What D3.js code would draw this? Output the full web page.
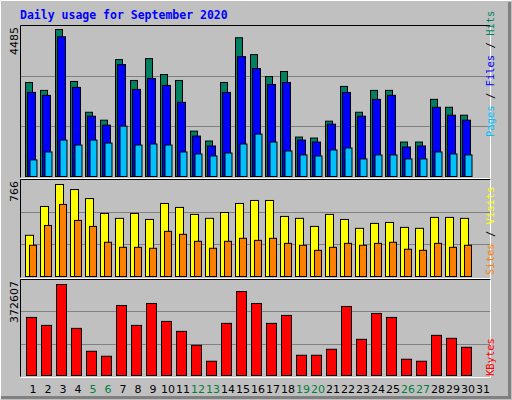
<!DOCTYPE html>
<html><head><meta charset="utf-8">
<script src="https://cdn.jsdelivr.net/npm/d3@7"></script>
<style>body{margin:0;background:#fff}svg{display:block}</style>
</head><body>
<svg id="c" width="512" height="400"></svg>
<script>
const days = d3.range(1, 32);
const weekend = [5, 6, 12, 13, 19, 20, 26, 27];
const hits = [2869,2627,4485,2900,1960,1718,3566,2930,3597,3112,2930,1385,1082,2869,4233,3718,3051,3203,1203,1173,1688,2748,1960,2627,2627,1051,1051,2354,2112,1870,0];
const files = [2566,2476,4263,2718,1839,1567,3415,2657,2991,2779,2263,1233,930,2566,3657,3294,2809,2869,1112,1051,1597,2566,1839,2354,2476,900,930,2112,1870,1718,0];
const pages = [506,748,1112,961,1112,1021,1536,961,991,961,748,688,627,718,991,1294,1051,779,658,627,809,870,536,658,658,536,536,748,688,658,0];
const visits = [343,583,766,724,649,525,484,525,475,608,575,517,484,533,608,633,633,500,484,417,517,475,401,442,450,409,401,492,492,484,0];
const sites = [260,425,600,467,417,285,243,243,235,376,351,293,235,293,318,301,318,276,260,218,243,276,260,276,285,227,218,276,243,260,0];
const kbytes = [237800,205200,372607,193000,99200,78800,286700,205200,294900,221500,180700,123700,58400,213400,343800,294900,213400,246000,82900,82900,107400,282700,148100,254100,237800,66600,58400,164400,152200,115500,0];
const maxHits = 4485, maxVisits = 766, maxKB = 372607;

const svg = d3.select("#c");
// background with bevel
svg.append("rect").attr("width",512).attr("height",400).attr("fill","#c0c0c0");
svg.append("path").attr("d","M0.5,399.5V0.5H511.5").attr("stroke","#fff").attr("fill","none");
svg.append("path").attr("d","M1,397.5H509.5V2").attr("stroke","#808080").attr("stroke-width",3).attr("fill","none");
svg.append("text").attr("x",20).attr("y",19).attr("fill","#0000ff")
  .attr("font-family","'DejaVu Sans Mono',monospace").attr("font-weight","bold").attr("font-size",11.5)
  .text("Daily usage for September 2020");

const x = d3.scaleBand().domain(days).range([25, 25 + 15*31]).paddingInner(0).paddingOuter(0);

function panel(top, bottom, barTop) {
  // frame
  svg.append("rect").attr("x",20.5).attr("y",top+0.5).attr("width",470).attr("height",bottom-top)
    .attr("fill","#c0c0c0").attr("stroke","none");
  const h = bottom - top;
  [1/3, 2/3].forEach(f => svg.append("line").attr("x1",21).attr("x2",490)
    .attr("y1",Math.round(top + h*f)+0.5).attr("y2",Math.round(top + h*f)+0.5).attr("stroke","#808080"));
  svg.append("path").attr("d",`M20.5,${bottom+0.5}V${top+0.5}H490.5`).attr("stroke","#000").attr("fill","none");
  svg.append("path").attr("d",`M20.5,${bottom+1.5}H490.5V${top+0.5}`).attr("stroke","#fff").attr("fill","none");
}
function bars(data, y, off, w, color) {
  svg.append("g").selectAll("rect").data(data.map((v,i)=>({v, d:days[i]})).filter(o=>o.v>0)).join("rect")
    .attr("x", o => x(o.d) + off + 0.5).attr("width", w)
    .attr("y", o => y(o.v) + 0.5).attr("height", o => y(0) - y(o.v))
    .attr("fill", color).attr("stroke","#000").attr("stroke-width",1);
}

panel(25, 177, 29);
const yT = d3.scaleLinear().domain([0, maxHits]).range([176, 29]);
bars(hits, yT, 0, 7, "#008060");
bars(files, yT, 2, 8, "#0000ff");
bars(pages, yT, 4.5, 7, "#00c0ff");

panel(179, 277);
const yM = d3.scaleLinear().domain([0, maxVisits]).range([276, 184]);
bars(visits, yM, 0, 8, "#ffff00");
bars(sites, yM, 4, 7, "#ff8000");

panel(279, 376);
const yB = d3.scaleLinear().domain([0, maxKB]).range([375, 284]);
bars(kbytes, yB, 1, 10, "#ff0000");

// x labels
svg.append("g").selectAll("text").data(days).join("text")
  .attr("x", d => x(d) + 8).attr("y", 393).attr("text-anchor","middle")
  .attr("font-family","'DejaVu Sans',sans-serif").attr("font-size",11)
  .attr("fill", d => weekend.includes(d) ? "#008040" : "#000").text(d => d);

// left max labels
function leftLabel(txt, top) {
  svg.append("text").attr("transform",`translate(18,${top+2}) rotate(-90)`).attr("text-anchor","end")
    .attr("font-family","'DejaVu Sans',sans-serif").attr("font-size",11).attr("fill","#000").text(txt);
}
leftLabel(String(maxHits), 25); leftLabel(String(maxVisits), 179); leftLabel(String(maxKB), 279);

// right legends
function rightLabel(parts, bottom) {
  const t = svg.append("text").attr("transform",`translate(494,${bottom}) rotate(-90)`)
    .attr("font-family","'DejaVu Sans Mono',monospace").attr("font-size",10.5);
  parts.forEach(([s,c]) => t.append("tspan").attr("fill",c).text(s));
}
rightLabel([["Pages","#00c0ff"],[" / ","#000"],["Files","#0000ff"],[" / ","#000"],["Hits","#008060"]], 137);
rightLabel([["Sites","#ff8000"],[" / ","#000"],["Visits","#ffff00"]], 275);
rightLabel([["KBytes","#ff0000"]], 376);
</script>
</body></html>
